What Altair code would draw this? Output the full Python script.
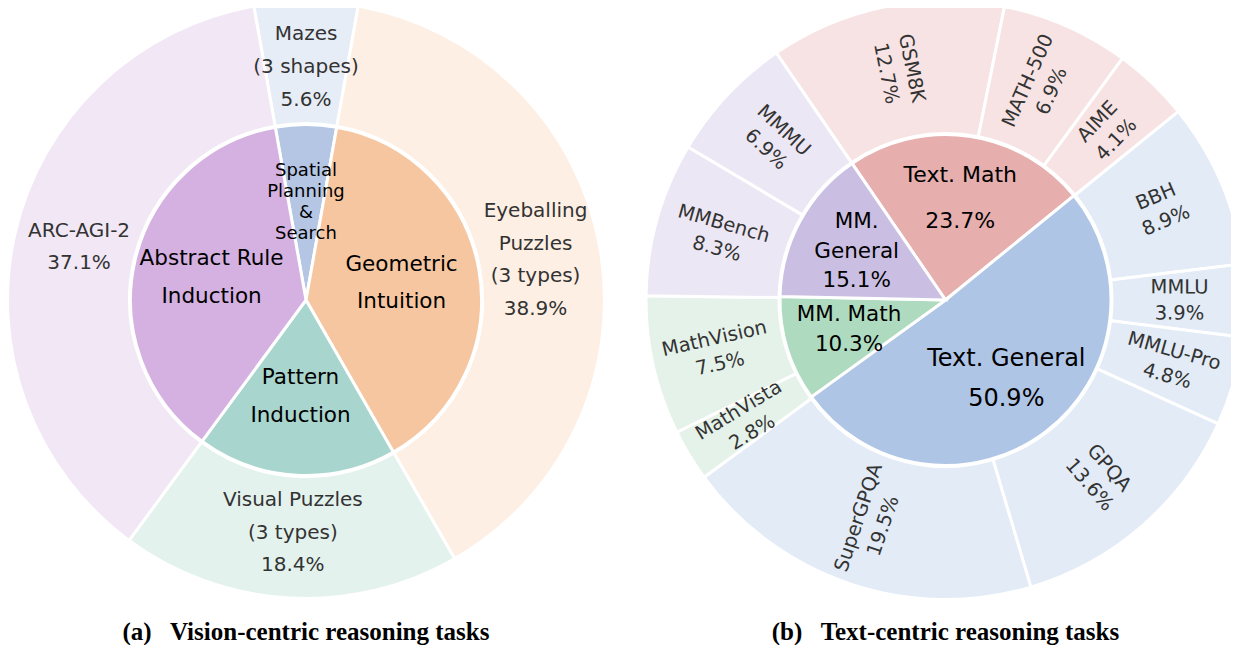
import math
import altair as alt
import pandas as pd

# ---------------- data ----------------
# (a) Vision-centric
a_inner_keys = ["Spatial Planning & Search", "Geometric Intuition", "Pattern Induction", "Abstract Rule Induction"]
a_inner_text = ["Spatial\nPlanning\n&\nSearch", "Geometric\nIntuition", "Pattern\nInduction", "Abstract Rule\nInduction"]
a_inner_values = [5.6, 38.9, 18.4, 37.1]

a_outer_keys = ["Mazes", "Eyeballing Puzzles", "Visual Puzzles", "ARC-AGI-2"]
a_outer_text = ["Mazes\n(3 shapes)", "Eyeballing\nPuzzles\n(3 types)", "Visual Puzzles\n(3 types)", "ARC-AGI-2"]
a_outer_values = [5.6, 38.9, 18.4, 37.1]

# (b) Text-centric
b_inner_keys = ["Text. Math", "Text. General", "MM. Math", "MM. General"]
b_inner_text = ["Text. Math", "Text. General", "MM. Math", "MM.\nGeneral"]
b_inner_values = [23.7, 50.9, 10.3, 15.1]

b_outer_keys = ["GSM8K", "MATH-500", "AIME", "BBH", "MMLU", "MMLU-Pro", "GPQA",
                "SuperGPQA", "MathVista", "MathVision", "MMBench", "MMMU"]
b_outer_values = [12.7, 6.9, 4.1, 8.9, 3.9, 4.8, 13.6, 19.5, 2.8, 7.5, 8.3, 6.9]

panels = ["a", "b"]
captions = ["(a)\u2002 Vision-centric reasoning tasks", "(b)\u2002 Text-centric reasoning tasks"]

# ---------------- colours ----------------
a_inner_colors = ["#b4c6e4", "#f6c6a0", "#a8d5cd", "#d5b1e1"]
a_outer_colors = ["#e7edf6", "#fdefe3", "#e4f2ee", "#f1e7f5"]
b_inner_colors = ["#e6afae", "#afc5e5", "#aedbbf", "#cabfe2"]
b_outer_colors = (["#f7e3e3"] * 3) + (["#e2ebf6"] * 5) + (["#e5f2e9"] * 2) + (["#ece7f4"] * 2)

all_keys = a_inner_keys + a_outer_keys + b_inner_keys + b_outer_keys
all_colors = a_inner_colors + a_outer_colors + b_inner_colors + b_outer_colors


def ring_df(panel, keys, text, values, with_pct=True):
    labels = [(t + "\n" + f"{v:.1f}%") if with_pct else t for t, v in zip(text, values)]
    return pd.DataFrame({"panel": panel, "key": keys, "label": labels,
                         "value": values, "order": list(range(len(keys)))})


df_a_in = ring_df("a", a_inner_keys, a_inner_text, a_inner_values, with_pct=False)
df_a_out = ring_df("a", a_outer_keys, a_outer_text, a_outer_values)
df_b_in = ring_df("b", b_inner_keys, b_inner_text, b_inner_values)
df_b_out = ring_df("b", b_outer_keys, b_outer_keys, b_outer_values)
df_cap = pd.DataFrame({"panel": panels, "caption": captions})

# ---------------- encodings ----------------
X = alt.X("panel:N", scale=alt.Scale(type="point", domain=panels, range=[298, 937.5], padding=0), axis=None)
Y = alt.Y("panel:N", scale=alt.Scale(type="point", domain=panels, range=[292, 292], padding=0), axis=None)
COLOR = alt.Color("key:N", scale=alt.Scale(domain=all_keys, range=all_colors), legend=None)

A_START = -10.08   # degrees, clockwise from 12 o'clock
B_START = -34.4


def prep(df, start_deg):
    total = round(float(df["value"].sum()), 4)
    ch = (alt.Chart(df)
          .transform_window(cum="sum(value)", sort=[alt.SortField("order", order="ascending")], frame=[None, 0])
          .transform_calculate(start="datum.cum - datum.value",
                               mid="datum.cum - datum.value / 2")
          .transform_calculate(phi=f"((({start_deg} + 360 * datum.mid / {total}) % 360) + 360) % 360")
          .transform_calculate(rot="datum.phi < 180 ? datum.phi - 90 : datum.phi - 270"))
    s0 = math.radians(start_deg)
    sc = alt.Scale(domain=[0, total], range=[s0, s0 + 2 * math.pi], nice=False, zero=True)
    return df, ch, sc


def arcs(ring, r_in, r_out):
    df, ch, sc = ring
    return ch.mark_arc(innerRadius=r_in, outerRadius=r_out, stroke="white", strokeWidth=3).encode(
        x=X, y=Y,
        theta=alt.Theta("start:Q", scale=sc, stack=None),
        theta2="cum:Q",
        color=COLOR,
    )


def labels(ring, radius, keys, size, lh, color, rotate=False):
    """One text layer per line count, shifted so each block is centred on its anchor."""
    df, ch, sc = ring
    groups = {}
    for k, lab in zip(df["key"], df["label"]):
        if k in keys:
            groups.setdefault(lab.count("\n") + 1, []).append(k)
    out = []
    for n, ks in groups.items():
        enc = dict(x=X, y=Y, theta=alt.Theta("mid:Q", scale=sc, stack=None), text="label:N")
        if rotate:
            enc["angle"] = alt.Angle("rot:Q", scale=None)
        out.append(ch.transform_filter(alt.FieldOneOfPredicate(field="key", oneOf=ks))
                   .mark_text(radius=radius, font="DejaVu Sans", fontSize=size, lineHeight=lh,
                              lineBreak="\n", color=color, align="center", baseline="middle",
                              dy=-(n - 1) * lh / 2)
                   .encode(**enc))
    return out


ra_in = prep(df_a_in, A_START)
ra_out = prep(df_a_out, A_START)
rb_in = prep(df_b_in, B_START)
rb_out = prep(df_b_out, B_START)

layers = [
    arcs(ra_in, 0, 175.5),
    arcs(ra_out, 176.5, 298.5),
    arcs(rb_in, 0, 165.5),
    arcs(rb_out, 166.5, 299.5),
]
layers += labels(ra_in, 97, a_inner_keys[1:], 21.5, 37.5, "black")
layers += labels(ra_in, 98, a_inner_keys[:1], 18, 21, "black")
layers += labels(ra_out, 233, a_outer_keys, 20, 32.7, "#333333")
layers += labels(rb_in, 103, ["Text. Math"], 22, 46, "black")
layers += labels(rb_in, 100, ["Text. General"], 24, 40, "black")
layers += labels(rb_in, 101, ["MM. Math", "MM. General"], 21.5, 29.5, "black")
layers += labels(rb_out, 234, b_outer_keys, 19.5, 26, "#333333", rotate=True)
layers.append(
    alt.Chart(df_cap).mark_text(font="Liberation Serif", fontWeight="bold", fontSize=25,
                                color="black", align="center", baseline="middle").encode(
        x=X, y=alt.value(624), text="caption:N"))

chart = (alt.layer(*layers)
         .resolve_scale(theta="independent")
         .properties(width=1223, height=637, padding=0,
                     autosize=alt.AutoSizeParams(type="none"))
         .configure_view(stroke=None))

chart.save("out.html", embed_options={"renderer": "svg", "actions": False})
